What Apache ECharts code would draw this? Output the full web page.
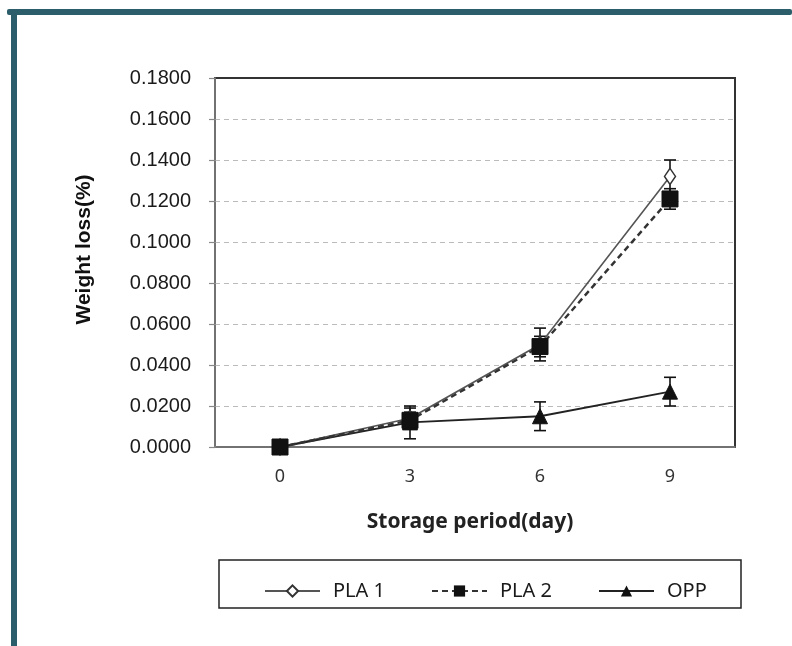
<!DOCTYPE html>
<html>
<head>
<meta charset="utf-8">
<script src="https://cdn.jsdelivr.net/npm/echarts@6/dist/echarts.min.js"></script>
<style>
html,body{margin:0;padding:0;background:#fff;}
#chart{width:792px;height:646px;}
</style>
</head>
<body>
<div id="chart"></div>
<script>
const categories = ['0', '3', '6', '9'];
const pla1 = [0, 0.014, 0.050, 0.132];
const pla1Err = [0, 0.005, 0.008, 0.008];
const pla2 = [0, 0.013, 0.049, 0.121];
const pla2Err = [0, 0.004, 0.005, 0.005];
const opp = [0, 0.012, 0.015, 0.027];
const oppErr = [0, 0.008, 0.007, 0.007];
const seriesNames = ['PLA 1', 'PLA 2', 'OPP'];

function errData(vals, errs) {
  return categories.map((c, i) => [i, vals[i], errs[i]]);
}
function errorBars(vals, errs, z) {
  return {
    type: 'custom',
    z: z,
    silent: true,
    data: errData(vals, errs),
    renderItem: function (params, api) {
      const x = api.value(0), y = api.value(1), e = api.value(2);
      if (!e) return null;
      const hi = api.coord([x, y + e]);
      const lo = api.coord([x, y - e]);
      const w = 6;
      const st = { stroke: '#111', lineWidth: 1.6 };
      return {
        type: 'group',
        children: [
          { type: 'line', shape: { x1: hi[0], y1: hi[1], x2: lo[0], y2: lo[1] }, style: st },
          { type: 'line', shape: { x1: hi[0] - w, y1: hi[1], x2: hi[0] + w, y2: hi[1] }, style: st },
          { type: 'line', shape: { x1: lo[0] - w, y1: lo[1], x2: lo[0] + w, y2: lo[1] }, style: st }
        ]
      };
    }
  };
}

const chart = echarts.init(document.getElementById('chart'), null, { renderer: 'canvas' });
chart.setOption({
  backgroundColor: '#fff',
  animation: false,
  graphic: [
    { type: 'rect', shape: { x: 7, y: 9, width: 785, height: 6, r: 2 }, style: { fill: '#2b5d6b' }, z: 10 },
    { type: 'rect', shape: { x: 11, y: 9, width: 6, height: 637 }, style: { fill: '#2b5d6b' }, z: 10 },
    { type: 'rect', shape: { x: 219, y: 560, width: 522, height: 48 }, style: { fill: 'none', stroke: '#222', lineWidth: 1.5 }, z: 1 }
  ],
  grid: {
    left: 215, right: 57, top: 78, bottom: 199,
    show: true, borderColor: '#333', borderWidth: 2, backgroundColor: 'transparent'
  },
  legend: {
    data: seriesNames,
    left: 259, top: 576,
    itemWidth: 55, itemHeight: 14, itemGap: 46,
    textStyle: { fontFamily: 'Noto Sans', fontSize: 20, color: '#1a1a1a', padding: [0, 0, 0, 8] }
  },
  xAxis: {
    type: 'category',
    data: categories,
    boundaryGap: true,
    name: 'Storage period(day)',
    nameLocation: 'middle',
    nameGap: 65,
    nameTextStyle: { fontFamily: 'Noto Sans', fontWeight: 'bold', fontSize: 21, color: '#222', padding: [0, 10, 0, 0] },
    axisLine: { lineStyle: { color: '#888', width: 1.5 } },
    axisTick: { show: false },
    axisLabel: { margin: 21, fontFamily: 'Noto Sans', fontSize: 18, color: '#333' },
    splitLine: { show: false }
  },
  yAxis: {
    type: 'value',
    min: 0, max: 0.18, interval: 0.02,
    name: 'Weight loss(%)',
    nameLocation: 'middle',
    nameGap: 120,
    nameRotate: 90,
    nameTextStyle: { fontFamily: 'Liberation Sans', fontWeight: 'bold', fontSize: 21, color: '#111', padding: [0, 0, 0, 26] },
    axisLine: { show: true, lineStyle: { color: '#888', width: 1.5 } },
    axisTick: { show: true, length: 6, lineStyle: { color: '#888', width: 1.2 } },
    axisLabel: {
      margin: 24,
      fontFamily: 'Liberation Sans', fontSize: 20, color: '#1a1a1a',
      formatter: v => v.toFixed(4)
    },
    splitLine: { show: true, showMinLine: false, showMaxLine: false, lineStyle: { color: '#bbb', type: [5, 4], width: 1.2 } }
  },
  series: [
    {
      name: 'PLA 1', type: 'line', data: pla1, z: 3,
      symbol: 'diamond', symbolSize: [11, 16],
      lineStyle: { color: '#555', width: 1.6 },
      itemStyle: { color: '#fff', borderColor: '#333', borderWidth: 1.5 }
    },
    {
      name: 'PLA 2', type: 'line', data: pla2, z: 5,
      symbol: 'rect', symbolSize: 16,
      lineStyle: { color: '#333', width: 2.4, type: [6, 4] },
      itemStyle: { color: '#111', borderColor: '#111' }
    },
    {
      name: 'OPP', type: 'line', data: opp, z: 4,
      symbol: 'triangle', symbolSize: [15, 15],
      lineStyle: { color: '#222', width: 1.8 },
      itemStyle: { color: '#111', borderColor: '#111' }
    },
    errorBars(pla1, pla1Err, 2),
    errorBars(pla2, pla2Err, 2),
    errorBars(opp, oppErr, 2)
  ]
});
</script>
</body>
</html>
